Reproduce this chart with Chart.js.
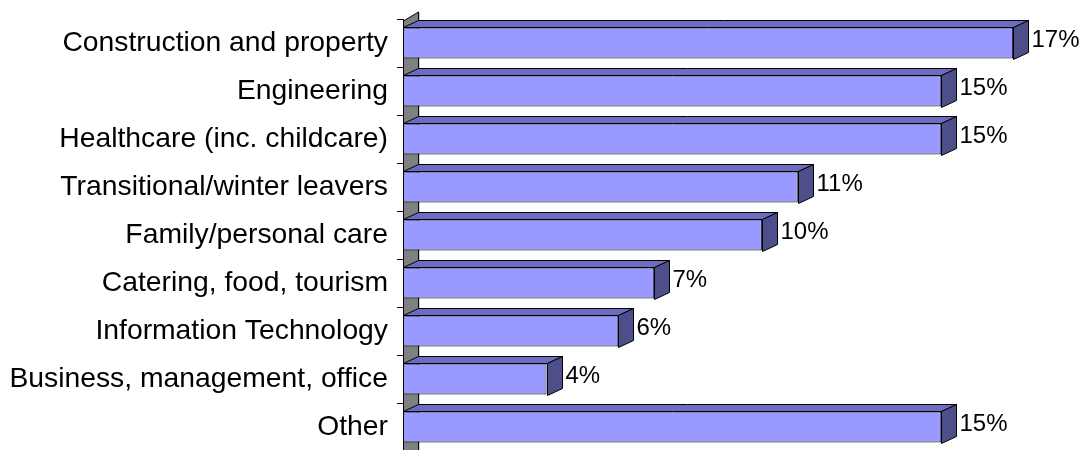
<!DOCTYPE html>
<html>
<head>
<meta charset="utf-8">
<script src="https://cdn.jsdelivr.net/npm/chart.js@4.4.1/dist/chart.umd.min.js"></script>
<style>
  html, body { margin: 0; padding: 0; background: #fff; overflow: hidden; }
  #wrap { width: 1084px; height: 450px; overflow: hidden; }
</style>
</head>
<body>
<div id="wrap"><canvas id="chart" width="1084" height="451"></canvas></div>
<script>
// ─── Data ─────────────────────────────────────────────────────────────
const categories = [
  "Construction and property",
  "Engineering",
  "Healthcare (inc. childcare)",
  "Transitional/winter leavers",
  "Family/personal care",
  "Catering, food, tourism",
  "Information Technology",
  "Business, management, office",
  "Other",
];
const shares = [17, 15, 15, 11, 10, 7, 6, 4, 15]; // percent

// ─── 3D look ──────────────────────────────────────────────────────────
const DEPTH_X = 15;
const DEPTH_Y = 7;
const FRONT = "#9999FF";
const TOP   = "#6C6CC0";
const SIDE  = "#4E4E8A";
const FONT  = "'Liberation Sans', Arial, sans-serif";

function poly(ctx, pts, fill) {
  ctx.beginPath();
  ctx.moveTo(pts[0][0], pts[0][1]);
  for (let i = 1; i < pts.length; i++) ctx.lineTo(pts[i][0], pts[i][1]);
  ctx.closePath();
  if (fill) { ctx.fillStyle = fill; ctx.fill(); }
  ctx.stroke();
}

// gray back wall behind the category axis
const wallPlugin = {
  id: "wall",
  beforeDraw(chart) {
    const { ctx, chartArea } = chart;
    const l = Math.round(chartArea.left) + 0.5;
    const t = chartArea.top + 2;
    const b = chart.height + 5;
    ctx.save();
    ctx.lineWidth = 1;
    ctx.strokeStyle = "#000";
    poly(ctx, [[l, t], [l + DEPTH_X, t - DEPTH_Y - 2], [l + DEPTH_X, b], [l, b]], "#808080");
    ctx.strokeStyle = "#D0D0D0";
    ctx.beginPath();
    ctx.moveTo(l + DEPTH_X + 1, t - DEPTH_Y - 1);
    ctx.lineTo(l + DEPTH_X + 1, b);
    ctx.stroke();
    ctx.restore();
  },
};

// top and side faces of each bar, plus the value label
const bar3dPlugin = {
  id: "bar3d",
  afterDatasetsDraw(chart) {
    const { ctx } = chart;
    const meta = chart.getDatasetMeta(0);
    ctx.save();
    ctx.lineWidth = 1;
    ctx.strokeStyle = "#000";
    meta.data.forEach((bar, i) => {
      const p = bar.getProps(["x", "y", "base", "height"], true);
      const left = Math.round(p.base) + 0.5;
      const right = Math.round(p.x) + 0.5;
      const top = Math.round(p.y - p.height / 2) + 0.5;
      const bottom = Math.round(p.y + p.height / 2) + 0.5;
      poly(ctx, [[left, top], [left + DEPTH_X, top - DEPTH_Y], [right + DEPTH_X, top - DEPTH_Y], [right, top]], TOP);
      poly(ctx, [[right, top], [right + DEPTH_X, top - DEPTH_Y], [right + DEPTH_X, bottom - DEPTH_Y], [right, bottom]], SIDE);

      ctx.fillStyle = "#000";
      ctx.font = "24px " + FONT;
      ctx.textAlign = "left";
      ctx.textBaseline = "middle";
      ctx.fillText(shares[i] + "%", right + DEPTH_X + 3, p.y - 3);
    });
    ctx.restore();
  },
};

// ─── Chart ────────────────────────────────────────────────────────────
new Chart(document.getElementById("chart"), {
  type: "bar",
  data: {
    labels: categories,
    datasets: [{
      data: shares,
      backgroundColor: FRONT,
      borderColor: "#000",
      borderWidth: 1,
      borderSkipped: false,
      barPercentage: 0.65,
      categoryPercentage: 1,
    }],
  },
  options: {
    indexAxis: "y",
    responsive: false,
    animation: false,
    layout: { padding: { top: 19, right: 35, bottom: 0, left: 0 } },
    plugins: {
      legend: { display: false },
      tooltip: { enabled: false },
    },
    scales: {
      x: { display: false, min: 0, max: 18 },
      y: {
        afterFit: (s) => {
          s.width = 403;
          s.paddingTop = 0;
          s.paddingBottom = 0;
        },
        grid: {
          drawOnChartArea: false,
          drawTicks: true,
          tickLength: 6,
          color: "#000",
          offset: true,
        },
        border: { display: true, color: "#000", width: 1 },
        ticks: {
          color: "#000",
          padding: 9,
          font: { size: 28.3, family: FONT },
        },
      },
    },
  },
  plugins: [wallPlugin, bar3dPlugin],
});
</script>
</body>
</html>
